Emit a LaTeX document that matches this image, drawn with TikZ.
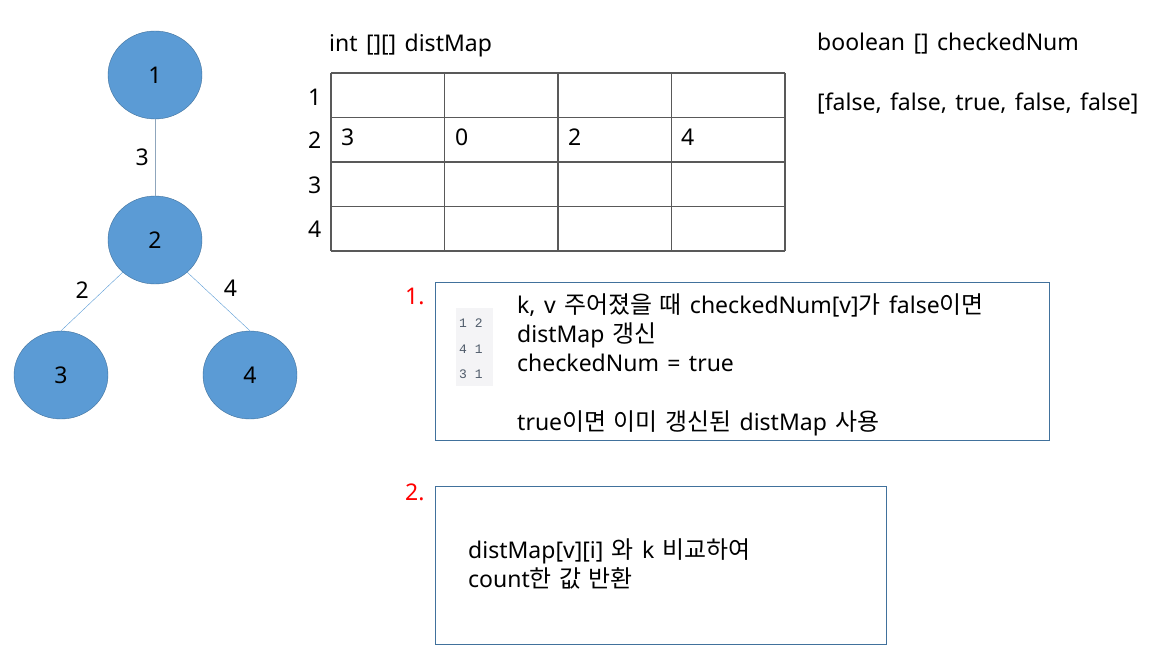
\documentclass[tikz,border=0pt]{standalone}
\usepackage{fontspec}
\setmainfont[WordSpace=1.4]{Noto Sans}
\newfontfamily\kr[Scale=1.04,WordSpace=1.4]{Noto Sans CJK KR}
\newfontfamily\monofam{Liberation Mono}
\usepackage{tikz}
\usetikzlibrary{shapes.geometric}

\definecolor{nodeblue}{HTML}{5B9BD5}
\definecolor{nodeline}{HTML}{41719C}
\definecolor{edgegray}{HTML}{8FA6BC}
\definecolor{gridgray}{HTML}{595959}
\definecolor{insetbg}{HTML}{F4F4F6}
\definecolor{insetnum}{HTML}{4F5B6A}

\tikzset{
  vertex/.style={draw=nodeline,fill=nodeblue,ellipse,minimum width=94pt,minimum height=88pt,inner sep=0pt,font=\fontsize{23}{30}\selectfont},
  txt/.style={anchor=base west,inner sep=0pt,font=\fontsize{23}{30}\selectfont},
  wlabel/.style={inner sep=0pt,text=black,font=\fontsize{23}{30}\selectfont},
  stepbox/.style={draw=nodeline,anchor=north west,inner sep=0pt},
  stepnum/.style={anchor=base west,inner sep=0pt,text=red,font=\fontsize{23}{30}\selectfont},
  insetnums/.style={anchor=base west,inner sep=0pt,text=insetnum,font=\monofam\fontsize{13}{15}\selectfont}
}

\begin{document}
\begin{tikzpicture}[x=1pt,y=-1pt]
\useasboundingbox (0,0) rectangle (1156,658);

% tree
\node[vertex] (n1) at (155,75) {1};
\node[vertex] (n2) at (155,240) {2};
\node[vertex] (n3) at (61,375) {3};
\node[vertex] (n4) at (250,375) {4};
\draw[edgegray] (n1) -- (n2) node[wlabel,midway,left=6pt] {3};
\draw[nodeblue] (n2.225) -- (n3.north) node[wlabel,midway,above left=3pt] {2};
\draw[nodeblue] (n2.-45) -- (n4.north) node[wlabel,midway,above right=5pt] {4};

% distMap table
\node[txt] (maptitle) at (329,52) {int [][] distMap};
\foreach \x in {331,444.5,558,671.5,785}
  \draw[gridgray,line width=1.5pt] (\x,73) -- (\x,251);
\foreach \y in {73,117.5,162,206.5,251}
  \draw[gridgray,line width=1.5pt] (331,\y) -- (785,\y);
\foreach \r/\y in {1/106,2/148,3/193,4/237}
  \node[txt] (row\r) at (308,\y) {\r};
\foreach \c/\x/\v in {1/341/3,2/455/0,3/568/2,4/681/4}
  \node[txt] (cell\c) at (\x,146) {\v};

% checkedNum
\node[txt] (numtitle) at (817,51) {boolean [] checkedNum};
\node[txt] (numvals) at (817,111) {[false, false, true, false, false]};

% step 1
\node[stepnum] (s1) at (405,304) {1.};
\node[stepbox,minimum width=614pt,minimum height=158pt] (box1) at (435,282) {};
\fill[insetbg] (456,308) rectangle (493,386);
\node[insetnums] (in1) at (459,327) {1 2};
\node[insetnums] (in2) at (459,353) {4 1};
\node[insetnums] (in3) at (459,378) {3 1};
\node[txt] (l1) at (517,313) {k, v {\kr 주어졌을 때} checkedNum[v]{\kr 가} false{\kr 이면}};
\node[txt] (l2) at (517,342) {distMap {\kr 갱신}};
\node[txt] (l3) at (517,371) {checkedNum = true};
\node[txt] (l4) at (517,430) {true{\kr 이면 이미 갱신된} distMap {\kr 사용}};

% step 2
\node[stepnum] (s2) at (405,500) {2.};
\node[stepbox,minimum width=451pt,minimum height=158pt] (box2) at (435,486) {};
\node[txt] (m1) at (468,558) {distMap[v][i] {\kr 와} k {\kr 비교하여}};
\node[txt] (m2) at (468,587) {count{\kr 한 값 반환}};
\end{tikzpicture}
\end{document}
